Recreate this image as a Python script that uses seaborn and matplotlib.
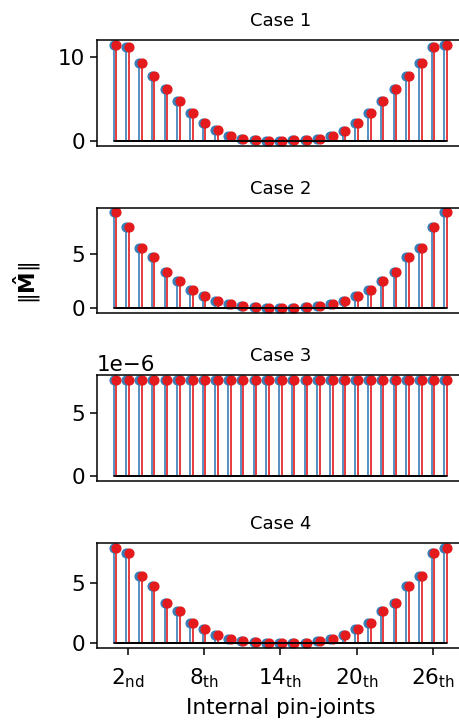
import numpy as np
import matplotlib
matplotlib.use("Agg")
import matplotlib.pyplot as plt
import seaborn as sns

# =========================
# Data
# =========================
joints = np.arange(27)  # internal pin-joints, 0-based (label = index + 1)

case1 = [11.44, 11.12, 9.32, 7.72, 6.16, 4.68, 3.36, 2.12, 1.24, 0.56, 0.16, 0.05, 0.02,
         0.0, 0.03, 0.05, 0.20, 0.56, 1.20, 2.16, 3.32, 4.68, 6.16, 7.72, 9.32, 11.12, 11.44]
case2 = [8.80, 7.45, 5.52, 4.69, 3.31, 2.55, 1.66, 1.10, 0.64, 0.37, 0.21, 0.09, 0.03,
         0.0, 0.03, 0.09, 0.21, 0.37, 0.64, 1.10, 1.66, 2.55, 3.31, 4.69, 5.52, 7.45, 8.80]
case3 = [7.68e-6] * 27
case4 = [7.91, 7.50, 5.55, 4.78, 3.35, 2.64, 1.70, 1.18, 0.69, 0.41, 0.22, 0.11, 0.05,
         0.0, 0.03, 0.08, 0.22, 0.41, 0.69, 1.18, 1.70, 2.64, 3.35, 4.78, 5.55, 7.50, 7.91]

cases = [case1, case2, case3, case4]
titles = ["Case 1", "Case 2", "Case 3", "Case 4"]
yticks = [[0, 10], [0, 5], [0, 5e-6], [0, 5]]

tick_pos = [1, 7, 13, 19, 25]
tick_labels = [r"$2_{nd}$", r"$8_{th}$", r"$14_{th}$", r"$20_{th}$", r"$26_{th}$"]

# =========================
# Style
# =========================
sns.set_theme(style="ticks")
plt.rcParams["font.family"] = ["DejaVu Sans"]
plt.rcParams["mathtext.default"] = "regular"
for key in ["text.color", "axes.labelcolor", "xtick.color", "ytick.color", "axes.edgecolor"]:
    plt.rcParams[key] = "black"
plt.rcParams["axes.linewidth"] = 1.1
plt.rcParams["xtick.major.width"] = 1.1
plt.rcParams["ytick.major.width"] = 1.1
plt.rcParams["xtick.major.size"] = 5
plt.rcParams["ytick.major.size"] = 5

pal = sns.color_palette("Set1")
blue, red = pal[1], pal[0]

fig, axes = plt.subplots(4, 1, figsize=(4.59, 7.22), dpi=100, sharex=True)
fig.subplots_adjust(left=0.2113, right=1.0102, top=0.9446, bottom=0.1021, hspace=0.588)

for ax, vals, title, yt in zip(axes, cases, titles, yticks):
    for dx, col in [(-0.1, blue), (0.1, red)]:
        markers, stems, base = ax.stem(joints + dx, vals, basefmt="k-")
        plt.setp(stems, color=col, linewidth=1.2)
        plt.setp(markers, color=col, markersize=6.3)
        plt.setp(base, color="black", linewidth=1.3)
    ax.set_title(title, fontsize=13, pad=10)
    ax.set_yticks(yt)
    ax.tick_params(axis="y", labelsize=15.5)
    ax.yaxis.get_offset_text().set_fontsize(15.5)
    ax.tick_params(axis="x", bottom=False)

axes[-1].tick_params(axis="x", bottom=True, labelsize=15.5, pad=8)
axes[-1].set_xticks(tick_pos)
axes[-1].set_xticklabels(tick_labels)
axes[-1].set_xlabel("Internal pin-joints", fontsize=15.5, labelpad=6)

fig.text(0.06, 0.608, r"$\|\mathbf{\hat{M}}\|$", rotation=90, fontsize=15.5,
         ha="center", va="center")

fig.savefig("out.png", dpi=100)
